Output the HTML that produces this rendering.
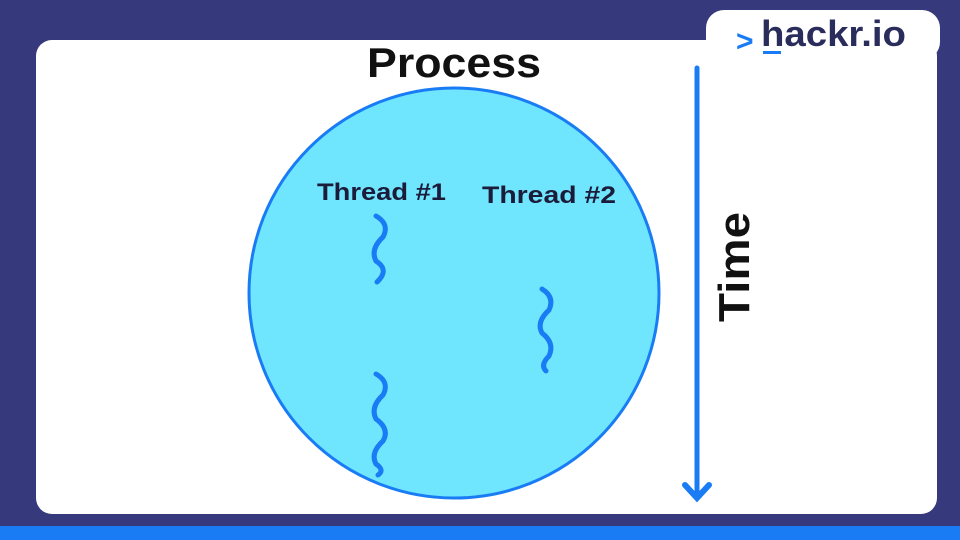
<!DOCTYPE html>
<html><head><style>
body{margin:0;width:960px;height:540px;overflow:hidden;background:#363a7c;font-family:"Liberation Sans",sans-serif}
</style></head><body>
<svg width="960" height="540" viewBox="0 0 960 540" style="position:absolute;left:0;top:0">
<rect width="960" height="540" fill="#363a7c"/>
<rect x="0" y="526" width="960" height="14" fill="#1a7cf5"/>
<rect x="36" y="40" width="901" height="474" rx="16" fill="#fff"/>
<rect x="706" y="10" width="234" height="50" rx="18" fill="#fff"/>
<text x="736" y="51" font-size="30" fill="#1a7cf5" font-weight="bold">&gt;</text>
<text x="761" y="46" font-size="36" fill="#2a2d5c" font-weight="bold" textLength="145" lengthAdjust="spacingAndGlyphs">hackr.io</text>
<rect x="763" y="51" width="18" height="3" fill="#1a7cf5"/>
<text x="454" y="77" font-size="42" font-weight="bold" fill="#111" text-anchor="middle" textLength="174" lengthAdjust="spacingAndGlyphs">Process</text>
<ellipse cx="454" cy="293" rx="205" ry="205" fill="#6fe6fd" stroke="#1a7cf5" stroke-width="3"/>
<text x="317" y="200" font-size="24" font-weight="bold" fill="#1c1c3a" textLength="129" lengthAdjust="spacingAndGlyphs">Thread #1</text>
<text x="482" y="203" font-size="24" font-weight="bold" fill="#1c1c3a" textLength="134" lengthAdjust="spacingAndGlyphs">Thread #2</text>
<g fill="none" stroke="#1a7cf5" stroke-width="5" stroke-linecap="round">
<path d="M376 216 Q390 224,383 237 Q370 249,376 261 Q390 270,377 282"/>
<path d="M542 289 Q555 297,549 310 Q536 322,542 333 Q555 343,549 356 Q540 365,546 371"/>
<path d="M376 374 Q390 382,383 395 Q370 407,376 419 Q390 429,383 441 Q370 453,376 464 Q385 470,378 475"/>
<line x1="697" y1="68" x2="697" y2="497"/>
<path d="M685 485 L697 498 L709 485" stroke-width="6"/>
</g>
<text transform="translate(749,267) rotate(-90)" font-size="44" font-weight="bold" fill="#111" text-anchor="middle" textLength="110" lengthAdjust="spacingAndGlyphs">Time</text>
</svg>
</body></html>
